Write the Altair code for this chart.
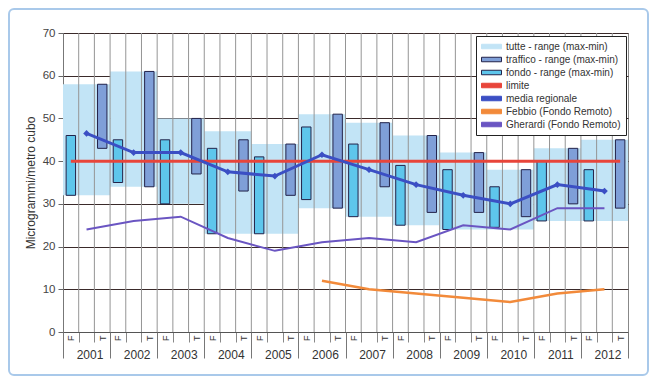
import json
import altair as alt
import pandas as pd

# ---------------- data ----------------
years = [2001, 2002, 2003, 2004, 2005, 2006, 2007, 2008, 2009, 2010, 2011, 2012]
tutte_min = [32, 34, 30, 23, 23, 29, 27, 25, 24, 24, 26, 26]
tutte_max = [58, 61, 50, 47, 44, 51, 49, 46, 42, 38, 43, 45]
fondo_min = [32, 35, 30, 23, 23, 31, 27, 25, 24, 24.5, 26, 26]
fondo_max = [46, 45, 45, 43, 41, 48, 44, 39, 38, 34, 40, 38]
traffico_min = [43, 34, 37, 33, 32, 29, 34, 28, 28, 27, 30, 29]
traffico_max = [58, 61, 50, 45, 44, 51, 49, 46, 42, 38, 43, 45]
media = [46.5, 42, 42, 37.5, 36.5, 41.5, 38, 34.5, 32, 30, 34.5, 33]
gherardi = [24, 26, 27, 22, 19, 21, 22, 21, 25, 24, 29, 29]
febbio_years = [2006, 2007, 2008, 2009, 2010, 2011, 2012]
febbio = [12, 10, 9, 8, 7, 9, 10]
limite = 40
slot_labels = ["F", "", "T"]
y_ticks = [0, 10, 20, 30, 40, 50, 60, 70]

LEG = ["tutte - range (max-min)", "traffico - range (max-min)",
       "fondo - range (max-min)", "limite", "media regionale",
       "Febbio (Fondo Remoto)", "Gherardi (Fondo Remoto)"]
FILL = ["#c2e4f6", "#7f9fd8", "#5ec6ec", "#e8453a", "#3b4fc4", "#f28a3a", "#6a55c2"]
STROKE = ["#c2e4f6", "#23234a", "#23234a", "#e8453a", "#3b4fc4", "#f28a3a", "#6a55c2"]

FONT = "Liberation Sans"
SLOTS = 3 * len(years)

# ---------------- tables ----------------
idx = {y: i for i, y in enumerate(years)}
tutte_df = pd.DataFrame({
    "voce": LEG[0],
    "x0": [3 * i for i in range(len(years))],
    "x1": [3 * i + 3 for i in range(len(years))],
    "lo": tutte_min, "hi": tutte_max})
fondo_df = pd.DataFrame({
    "voce": LEG[2],
    "x0": [3 * i + 0.2 for i in range(len(years))],
    "x1": [3 * i + 0.8 for i in range(len(years))],
    "lo": fondo_min, "hi": fondo_max})
traffico_df = pd.DataFrame({
    "voce": LEG[1],
    "x0": [3 * i + 2.2 for i in range(len(years))],
    "x1": [3 * i + 2.8 for i in range(len(years))],
    "lo": traffico_min, "hi": traffico_max})
centers = [3 * i + 1.5 for i in range(len(years))]
media_df = pd.DataFrame({"voce": LEG[4], "x": centers, "v": media})
gher_df = pd.DataFrame({"voce": LEG[6], "x": centers, "v": gherardi})
febbio_df = pd.DataFrame({"voce": LEG[5],
                          "x": [3 * idx[y] + 1.5 for y in febbio_years],
                          "v": febbio})
limite_df = pd.DataFrame({"voce": LEG[3], "x": [0.5, SLOTS - 0.5], "v": [limite, limite]})
grid_df = pd.DataFrame({"b": list(range(1, SLOTS))})

# ---------------- scales, axes, legend ----------------
xs = alt.Scale(domain=[0, SLOTS], nice=False, zero=False)
ys = alt.Scale(domain=[0, 70], nice=False)
fill_s = alt.Scale(domain=LEG, range=FILL)
stroke_s = alt.Scale(domain=LEG, range=STROKE)

legend = alt.Legend(
    title=None, orient="none", legendX=413, legendY=3,
    symbolType="M-1,-0.45H3V0.45H-1Z", symbolSize=100, symbolStrokeWidth=1,
    labelFont=FONT, labelFontSize=10, labelColor="#333", labelOffset=14,
    rowPadding=2, padding=5, strokeColor="#222", fillColor="white", zindex=1)

slot_expr = ("datum.value % 1 === 0 ? '' : " + json.dumps(slot_labels)
             + "[floor(datum.value) % 3]")
ft_axis = alt.Axis(
    orient="bottom", values=[k * 0.5 for k in range(2 * SLOTS + 1)],
    labelExpr=slot_expr, labelAngle=270, labelFontSize=9, labelColor="#333",
    labelFont=FONT, labelOverlap=False, labelFlush=False, labelPadding=-7,
    ticks=True, tickSize=10, tickColor="#888",
    tickOpacity={"condition": {"test": "datum.value % 1 === 0", "value": 1}, "value": 0},
    domainColor="#555", grid=False, title=None)

year_expr = ("datum.value % 3 === 1.5 ? " + json.dumps([str(y) for y in years])
             + "[floor(datum.value / 3)] : ''")
year_axis = alt.Axis(
    orient="bottom", values=[k * 1.5 for k in range(2 * len(years) + 1)],
    labelExpr=year_expr, labelFontSize=12, labelColor="#333", labelFont=FONT,
    labelOverlap=False, labelFlush=False, labelPadding=-9, labelOffset=3,
    ticks=True, tickSize=26, tickColor="#777",
    tickOpacity={"condition": {"test": "datum.value % 3 === 0", "value": 1}, "value": 0},
    domain=False, grid=False, title=None)

y_axis = alt.Axis(
    values=y_ticks, grid=True, gridColor="#3a2a2a", gridWidth=1,
    tickSize=5, tickColor="#666", domainColor="#777",
    labelFont=FONT, labelFontSize=11.5, labelColor="#444", labelPadding=3,
    title="Microgrammi/metro cubo", titleFont=FONT, titleFontSize=12,
    titleFontWeight="normal", titleColor="#333", titlePadding=5)


def Y(field):
    return alt.Y(field, scale=ys, axis=y_axis)


# ---------------- layers ----------------
tutte = alt.Chart(tutte_df).mark_rect(strokeWidth=0).encode(
    x=alt.X("x0:Q", scale=xs, axis=ft_axis), x2="x1:Q",
    y=Y("lo:Q"), y2="hi:Q",
    fill=alt.Fill("voce:N", scale=fill_s, legend=legend),
    stroke=alt.Stroke("voce:N", scale=stroke_s, legend=legend))

vgrid = alt.Chart(grid_df).mark_rule(color="#959595", strokeWidth=1).encode(
    x=alt.X("b:Q", scale=xs, axis=year_axis))


def range_bars(df):
    return alt.Chart(df).mark_rect(strokeWidth=1).encode(
        x=alt.X("x0:Q", scale=xs, axis=None), x2="x1:Q",
        y=Y("lo:Q"), y2="hi:Q",
        fill=alt.Fill("voce:N", scale=fill_s, legend=legend),
        stroke=alt.Stroke("voce:N", scale=stroke_s, legend=legend))


def series_line(df, width):
    return alt.Chart(df).mark_line(strokeWidth=width).encode(
        x=alt.X("x:Q", scale=xs, axis=None),
        y=Y("v:Q"),
        stroke=alt.Stroke("voce:N", scale=stroke_s, legend=legend))


media_pts = alt.Chart(media_df).mark_point(
    shape="diamond", filled=True, size=45, opacity=1, color=STROKE[4]).encode(
    x=alt.X("x:Q", scale=xs, axis=None),
    y=Y("v:Q"))

frame = alt.Chart(pd.DataFrame({"k": [0]})).mark_rect(
    filled=False, stroke="#a9c9ea", strokeWidth=2, cornerRadius=5).encode(
    x=alt.value(-54), x2=alt.value(585), y=alt.value(-24), y2=alt.value(342))

chart = alt.layer(
    tutte, vgrid, range_bars(fondo_df), range_bars(traffico_df),
    series_line(limite_df, 3), series_line(gher_df, 2),
    series_line(febbio_df, 2.5), series_line(media_df, 3), media_pts, frame
).resolve_axis(x="independent").properties(
    width=565, height=299,
    padding={"left": 55, "top": 25, "right": 22, "bottom": 44},
    autosize=alt.AutoSizeParams(type="none"),
).configure(font=FONT).configure_view(stroke="#888")

chart.save("out.html", embed_options={"renderer": "svg", "actions": False})
